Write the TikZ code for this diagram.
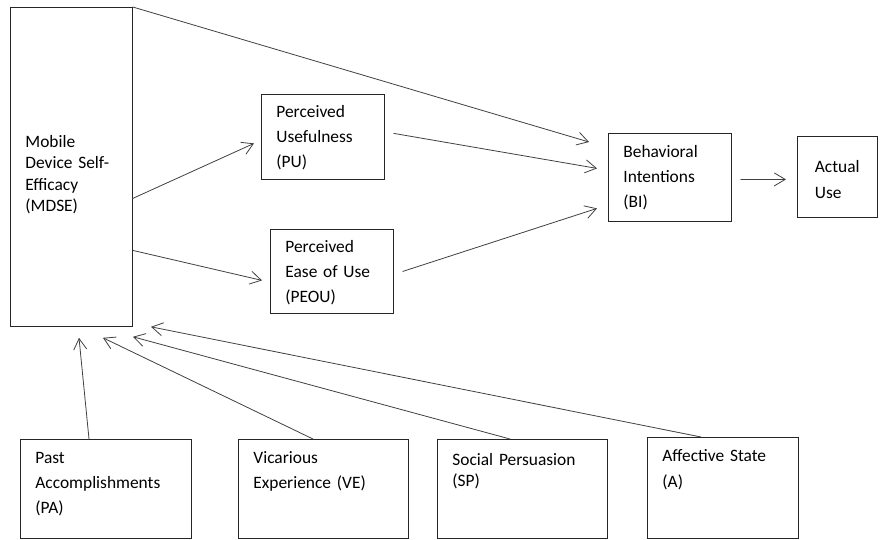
\documentclass[tikz,border=0pt]{standalone}
\usepackage{fontspec}
\setmainfont{Carlito}
\usetikzlibrary{arrows.meta}

\begin{document}
\begin{tikzpicture}[x=1pt,y=-1pt,>={Straight Barb[length=11pt,width=13pt]},line cap=round,
  font=\fontsize{17.4}{25}\selectfont,
  blk/.style={draw=black!85,line width=0.8pt,anchor=north west,align=left,inner xsep=15pt,inner ysep=0pt,text height=24pt},
  lnk/.style={->,draw=black!75,line width=0.8pt}]
\useasboundingbox (0,0) rectangle (881,539);
\node[blk,text width=92pt,text height=140pt,text depth=179pt,font=\fontsize{17.4}{21.5}\selectfont] (mdse) at (10,7) {Mobile\\Device Self-\\Efficacy\\(MDSE)};
\node[blk,text width=93pt,text height=23pt,text depth=62pt] (pu) at (261,94) {Perceived\\Usefulness\\(PU)};
\node[blk,text width=93pt,text height=23pt,text depth=61pt] (peou) at (270,229) {Perceived\\Ease of Use\\(PEOU)};
\node[blk,text width=93pt,text depth=64pt] (bi) at (608,133) {Behavioral\\Intentions\\(BI)};
\node[blk,inner xsep=17.5pt,text width=45pt,text height=36pt,text depth=45pt,font=\fontsize{17.4}{26}\selectfont] (au) at (797,136) {Actual\\Use};
\node[blk,text width=141pt,text depth=75pt] (pa) at (20,439) {Past\\Accomplishments\\(PA)};
\node[blk,text width=140pt,text depth=75pt] (ve) at (238,439) {Vicarious\\Experience (VE)};
\node[blk,text width=140pt,text height=26pt,text depth=73pt,font=\fontsize{17.4}{21}\selectfont] (sp) at (437,439) {Social Persuasion\\(SP)};
\node[blk,text width=121pt,text depth=77pt,font=\fontsize{17.4}{26}\selectfont] (as) at (647,437) {Affective State\\(A)};
% paths into BI
\draw[lnk] (mdse.north east) -- ([xshift=-19pt,yshift=-9pt]bi.north west);
\draw[lnk] ([xshift=9pt,yshift=3.5pt]pu.east) -- ([xshift=-11pt,yshift=9pt]bi.west);
\draw[lnk] ([xshift=9pt]peou.east) -- ([xshift=-11pt,yshift=-31pt]bi.west);
\draw[lnk] ([yshift=-31.5pt]mdse.east) -- ([xshift=-7pt,yshift=-6.5pt]pu.west);
\draw[lnk] ([yshift=-83.5pt]mdse.east) -- ([xshift=-8pt,yshift=-9pt]peou.west);
\draw[lnk] ([xshift=9pt,yshift=-2pt]bi.east) -- ([xshift=-11pt,yshift=-2.5pt]au.west);
% sources of self-efficacy
\draw[lnk] ([xshift=69pt]pa.north west) -- ([xshift=69pt,yshift=-11pt]mdse.south west);
\draw[lnk] ([xshift=75pt]ve.north west) -- ([xshift=93pt,yshift=-11pt]mdse.south west);
\draw[lnk] ([xshift=73pt]sp.north west) -- ([xshift=123pt,yshift=-10pt]mdse.south west);
\draw[lnk] ([xshift=54pt]as.north west) -- ([xshift=141pt]mdse.south west);
\end{tikzpicture}
\end{document}
